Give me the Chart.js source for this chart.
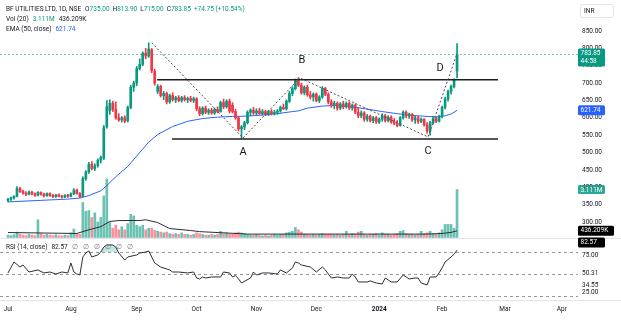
<!DOCTYPE html>
<html>
<head>
<meta charset="utf-8">
<script src="https://cdn.jsdelivr.net/npm/chart.js@4.4.1/dist/chart.umd.min.js"></script>
<style>
  html, body { margin: 0; padding: 0; background: #fff; }
  #wrap { width: 621px; height: 322px; position: relative; }
</style>
</head>
<body>
<div id="wrap"><canvas id="myChart" width="621" height="322"></canvas></div>
<script>
// daily candles, one entry per trading day (index 0 = first bar of July)
const opens = [
  362,366,370,374,396,388,383,380,386,381, 377,385,380,376,382,376,373,378,374,372,
  377,374,381,392,382,373,425,444,466,454, 462,478,484,574,620,642,624,600,594,600,
  592,630,688,700,742,754,786,778,796,734, 676,690,664,670,646,664,652,658,650,658,
  652,656,650,655,626,612,628,616,622,614, 624,618,644,632,648,636,618,600,568,574,
  586,616,622,614,620,612,618,610,618,612, 616,620,630,626,648,670,684,706,694,672,
  688,666,660,668,650,660,684,668,646,636, 642,628,640,632,642,628,636,616,606,614,
  596,604,592,600,588,596,606,592,602,588, 584,578,600,616,606,610,594,600,590,596,
  580,562,586,598,590,604,630,654,676,690, 735
];
const highs = [
  368,372,376,402,400,392,388,390,389,384, 388,387,383,384,384,380,380,381,377,379,
  380,384,396,395,385,430,448,472,474,468, 482,490,578,650,652,648,646,612,604,606,
  634,694,706,748,770,790,800,816,800,740, 696,694,676,674,668,672,662,664,662,664,
  660,662,660,658,632,632,634,626,628,628, 632,648,654,652,654,644,624,604,578,590,
  620,626,630,626,628,624,622,622,624,622, 624,634,640,652,676,690,712,716,700,692,
  694,676,672,672,664,690,688,672,652,648, 646,644,648,646,646,640,640,628,620,618,
  610,608,604,604,600,612,610,606,606,598, 592,604,620,620,614,612,604,604,600,598,
  586,590,604,602,608,634,660,680,694,712, 813.9
];
const lows = [
  358,362,366,372,385,380,376,378,378,374, 375,377,372,374,374,370,371,372,369,370,
  371,372,379,380,370,372,420,440,450,448, 458,470,480,570,610,618,596,590,588,586,
  588,626,676,692,738,750,770,774,730,694, 670,660,652,640,642,648,644,646,645,648,
  644,646,644,620,606,608,612,610,610,610, 614,616,626,628,614,614,596,562,542,566,
  582,606,610,608,610,608,606,606,608,608, 610,616,624,622,644,664,680,690,668,666,
  662,654,648,646,644,656,664,640,630,626, 622,624,626,628,624,622,612,600,600,590,
  590,588,586,584,584,590,588,588,584,580, 574,576,596,600,598,590,584,584,586,576,
  556,550,582,586,588,600,626,648,668,686, 715
];
const closes = [
  366,370,374,396,388,383,380,386,381,377, 385,380,376,382,376,373,378,374,372,377,
  374,381,392,382,373,425,444,466,454,462, 478,486,572,632,642,624,600,594,600,590,
  630,688,700,742,754,786,778,798,736,700, 690,664,670,646,664,652,658,650,658,652,
  656,650,655,626,612,628,616,622,614,624, 618,644,632,648,620,618,600,568,574,586,
  616,622,614,620,612,618,610,618,612,616, 620,630,626,648,670,684,706,694,672,688,
  666,660,668,650,660,684,668,646,636,642, 628,640,632,642,628,636,616,606,614,596,
  604,592,600,588,596,606,592,602,588,584, 578,600,616,606,610,594,600,590,596,580,
  562,586,598,590,604,630,654,676,690,709.1, 783.85
];
// volume in millions
const volumes = [
  0.15,0.12,0.18,0.35,0.22,0.15,0.12,0.2,0.15,0.12, 1.15,0.25,0.15,0.2,0.15,0.12,0.18,0.12,0.1,0.15,
  0.12,0.3,0.55,0.25,0.2,2.27,1.7,1.75,1.3,1.6, 1.0,1.3,2.7,3.8,1.0,0.6,0.8,0.5,0.7,0.5,
  0.9,1.5,1.4,0.8,0.7,0.8,0.5,0.6,0.6,0.45, 0.4,0.35,0.3,0.35,0.25,0.2,0.25,0.2,0.3,0.2,
  0.2,0.15,0.2,0.3,0.25,0.2,0.15,0.15,0.2,0.15, 0.2,0.4,0.25,0.3,0.2,0.25,0.3,0.35,0.3,0.25,
  0.2,0.15,0.15,0.2,0.15,0.1,0.15,0.1,0.15,0.2, 0.15,0.2,0.2,0.3,0.35,0.4,0.65,0.5,0.35,0.2,
  0.2,0.15,0.2,0.15,0.2,0.25,0.2,0.2,0.2,0.15, 0.2,0.15,0.2,0.4,0.2,0.25,0.2,0.35,0.4,0.2,
  0.15,0.2,0.2,0.25,0.15,0.3,0.2,0.2,0.15,0.2, 0.25,0.4,0.45,0.25,0.2,0.2,0.15,0.2,0.4,0.25,
  0.3,0.4,0.25,0.2,0.3,0.5,0.85,0.85,0.85,0.6, 3.111
];

// indicator lines (bar index -> value)
const emaIdx  = [0,10,20,24,27,31,33,35,37,40,43,45,47,50,55,60,65,70,75,80,85,90,95,97,100,105,110,115,120,125,130,135,140,143,146,148,150];
const emaVals = [358,362,366,369,376,390,405,422,438,460,490,510,530,552,575,590,598,602,604,605,608,612,618,620,628,634,636,632,625,618,612,607,604,603,606,611,621.74];

const volMaIdx  = [0,23,27,31,34,37,44,46,50,54,61,64,80,100,120,140,145,148,150];
const volMaVals = [0.32,0.26,0.5,0.7,1.04,1.1,1.1,1.15,0.97,0.58,0.45,0.38,0.22,0.22,0.22,0.22,0.26,0.33,0.436209];

const rsiIdx = [0,2,4,5,7,10,12,14,16,18,20,21,22,23,24,25,26,27,28,30,31,32,33,35,36,37,39,40,43,44,46,47,49,51,54,55,57,60,62,63,64,65,66,68,71,72,74,75,76,77,78,81,82,83,85,87,90,91,93,95,96,97,98,101,103,105,106,108,110,112,114,115,116,117,120,121,123,125,126,127,128,130,132,133,134,136,137,138,140,141,143,144,145,146,148,149,150];
const rsiVals = [51.4,66.4,59.5,62.3,52.7,55.5,51.4,52.7,50,52.7,51.4,65,52.7,50,48.6,73.2,78.6,81.4,73.2,76,80,86.8,89.6,89.6,86.8,78.6,69,73.2,76,78.6,80,81.4,65,59.5,55.5,52.7,52.7,51.4,52.7,44.5,43.2,45.9,44.5,45.9,45.9,52.7,51.4,45.9,48,43.2,37.7,44.5,52.7,48.6,51.4,51.4,50,55.5,51.4,58.2,66.4,65,62.3,59.5,52.7,59.5,55.5,44.5,45.9,44.5,44.5,50,45.9,39.1,39.1,40.5,37.7,36.4,44.5,41.8,39.1,39.1,48.6,45.9,43.2,44.5,44.5,37.7,35,45.9,45.9,51.4,58.2,66.4,73.2,77,82.57];

// axis ticks
const monthIdx    = [0,21,43,63,83,103,124,145,166,185];
const monthLabels = ['Jul','Aug','Sep','Oct','Nov','Dec','2024','Feb','Mar','Apr'];
const priceTicks  = [300,350,400,450,500,550,600,650,700,750,800,850];
const rsiTicks    = [75,50.31,34.55,25];
const rsiBands    = [80,50,20];

// drawn analysis: range lines and the A-B-C-D swing
const levelPrices = [710, 539];
const levelFrom   = [49.8, 54.8];
const levelTo     = [163.7, 163.7];
const swingIdx    = [48, 78.5, 97.5, 140.3, 149.7];
const swingPrice  = [816, 542, 715, 545, 778];
const swingLabels = ['A','B','C','D'];
const labelIdx    = [78.5, 98.2, 140.3, 144.3];
const labelPrice  = [502, 766, 505, 744];

const UP = '#089981', DOWN = '#F23645', INK = '#131722';
const FONT = 'Roboto, "Noto Sans", sans-serif';
const last = closes.length - 1;
const bars = closes.map((_, i) => i);
const candleColors = bars.map(i => closes[i] >= opens[i] ? UP : DOWN);
const volColors = bars.map(i => closes[i] >= opens[i] ? 'rgba(8,153,129,0.6)' : 'rgba(242,54,69,0.55)');
const pts = (xs, ys) => xs.map((x, k) => ({ x, y: ys[k] }));

function line(ctx, x1, y1, x2, y2) {
  ctx.beginPath(); ctx.moveTo(x1, y1); ctx.lineTo(x2, y2); ctx.stroke();
}
function segs(ctx, x, y, parts) {
  parts.forEach(([t, c, gap]) => {
    ctx.fillStyle = c;
    ctx.fillText(t, x, y);
    x += ctx.measureText(t).width + (gap || 0);
  });
}
function tag(ctx, x, top, w, h, bg, lines) {
  ctx.fillStyle = bg;
  ctx.beginPath(); ctx.roundRect(x, top, w, h, 1.5); ctx.fill();
  ctx.fillStyle = '#fff';
  lines.forEach((t, k) => ctx.fillText(t, x + 2.5, top + 5 + k * 8));
}

const decor = {
  id: 'decor',
  beforeDatasetsDraw(chart) {
    const { ctx, chartArea: a, scales: { y, yRsi } } = chart;
    ctx.save();
    ctx.lineWidth = 1;
    ctx.strokeStyle = '#e0e3eb';
    line(ctx, 0, Math.round(yRsi.top) + 0.5, chart.width, Math.round(yRsi.top) + 0.5);
    line(ctx, 0, Math.round(a.bottom) + 0.5, chart.width, Math.round(a.bottom) + 0.5);
    ctx.setLineDash([3, 3]);
    ctx.strokeStyle = '#9598a1';
    rsiBands.forEach(v => {
      const py = Math.round(yRsi.getPixelForValue(v)) + 0.5;
      line(ctx, a.left, py, a.right, py);
    });
    ctx.setLineDash([2, 2]);
    ctx.strokeStyle = 'rgba(8,153,129,0.55)';
    const py = Math.round(y.getPixelForValue(closes[last])) + 0.5;
    line(ctx, a.left, py, a.right, py);
    ctx.restore();
  },
  afterDraw(chart) {
    const { ctx, chartArea: a, scales: { x, y, yVol, yRsi } } = chart;
    ctx.save();
    ctx.textBaseline = 'middle';

    // swing letters
    ctx.font = '11px ' + FONT;
    ctx.fillStyle = INK;
    ctx.textAlign = 'center';
    swingLabels.forEach((t, k) => ctx.fillText(t, x.getPixelForValue(labelIdx[k]), y.getPixelForValue(labelPrice[k])));

    // legends
    ctx.textAlign = 'left';
    ctx.font = '6.5px ' + FONT;
    const chg = closes[last] - closes[last - 1];
    segs(ctx, 6, 9.5, [
      ['BF UTILITIES LTD, 1D, NSE', INK, 4],
      ['O', INK], [opens[last].toFixed(2), UP, 3],
      ['H', INK], [highs[last].toFixed(2), UP, 3],
      ['L', INK], [lows[last].toFixed(2), UP, 3],
      ['C', INK], [closes[last].toFixed(2), UP, 3],
      ['+' + chg.toFixed(2) + ' (+' + (chg / closes[last - 1] * 100).toFixed(2) + '%)', UP]
    ]);
    const volMaLast = volMaVals[volMaVals.length - 1];
    segs(ctx, 6, 19.5, [['Vol (20)', INK, 4], [volumes[last].toFixed(3) + 'M', UP, 4], [(volMaLast * 1000).toFixed(3) + 'K', INK]]);
    segs(ctx, 6, 29, [['EMA (50, close)', INK, 4], [emaVals[emaVals.length - 1].toFixed(2), '#2962FF']]);
    segs(ctx, 6, yRsi.top + 9, [['RSI (14, close)', INK, 4], [rsiVals[rsiVals.length - 1].toFixed(2), INK, 4],
      ['∅', '#787b86', 5], ['∅', '#787b86', 5], ['∅', '#787b86', 5], ['∅', '#787b86', 5], ['∅', '#787b86', 5], ['∅', '#787b86']]);

    // price scale tags
    const rx = a.right;
    const pc = y.getPixelForValue(closes[last]);
    tag(ctx, rx, pc - 5.5, 27, 18, UP, [closes[last].toFixed(2), '44:58']);
    tag(ctx, rx, y.getPixelForValue(emaVals[emaVals.length - 1]) - 5, 27, 10, '#2962FF', [emaVals[emaVals.length - 1].toFixed(2)]);
    tag(ctx, rx, yVol.getPixelForValue(volumes[last]) - 4.5, 27, 9, 'rgba(8,153,129,0.85)', [volumes[last].toFixed(3) + 'M']);
    tag(ctx, rx, yVol.getPixelForValue(volMaLast) - 5, 36, 10, '#000', [(volMaLast * 1000).toFixed(3) + 'K']);
    tag(ctx, rx, yRsi.top - 0.5, 27, 10, '#000', [rsiVals[rsiVals.length - 1].toFixed(2)]);

    // currency box
    ctx.strokeStyle = '#e0e3eb';
    ctx.lineWidth = 1;
    ctx.beginPath(); ctx.roundRect(580.5, 4.5, 33, 13, 2); ctx.stroke();
    ctx.fillStyle = INK;
    ctx.fillText('INR', 584, 11.5);
    ctx.restore();
  }
};

const tickFont = { family: FONT, size: 6.5 };
const flatFit = s => { s.paddingTop = 0; s.paddingBottom = 0; s.paddingLeft = 0; s.paddingRight = 0; };

new Chart(document.getElementById('myChart'), {
  type: 'bar',
  data: {
    datasets: [
      { type: 'line', data: pts(swingIdx, swingPrice), yAxisID: 'y', borderColor: '#4a4e59', borderWidth: 1, borderDash: [2, 2], pointRadius: 0, order: 0 },
      { type: 'line', data: [{ x: levelFrom[0], y: levelPrices[0] }, { x: levelTo[0], y: levelPrices[0] }], yAxisID: 'y', borderColor: '#1e1e1e', borderWidth: 1.5, pointRadius: 0, order: 0 },
      { type: 'line', data: [{ x: levelFrom[1], y: levelPrices[1] }, { x: levelTo[1], y: levelPrices[1] }], yAxisID: 'y', borderColor: '#1e1e1e', borderWidth: 1.5, pointRadius: 0, order: 0 },
      { type: 'bar', data: bars.map(i => ({ x: i, y: [opens[i], closes[i]] })), yAxisID: 'y', backgroundColor: candleColors, barThickness: 2, grouped: false, order: 2 },
      { type: 'bar', data: bars.map(i => ({ x: i, y: [lows[i], highs[i]] })), yAxisID: 'y', backgroundColor: candleColors, barThickness: 1, grouped: false, order: 3 },
      { type: 'line', data: pts(emaIdx, emaVals), yAxisID: 'y', borderColor: '#2962FF', borderWidth: 1, pointRadius: 0, order: 4 },
      { type: 'line', data: pts(volMaIdx, volMaVals), yAxisID: 'yVol', borderColor: '#2a2e39', borderWidth: 1, pointRadius: 0, order: 5 },
      { type: 'bar', data: bars.map(i => ({ x: i, y: volumes[i] })), yAxisID: 'yVol', backgroundColor: volColors, barThickness: 2, grouped: false, order: 9 },
      { type: 'line', data: pts(rsiIdx, rsiVals), yAxisID: 'yRsi', borderColor: '#2a2e39', borderWidth: 1, pointRadius: 0, order: 6,
        fill: { target: { value: 80 }, above: 'rgba(8,153,129,0.25)', below: 'rgba(0,0,0,0)' } }
    ]
  },
  options: {
    responsive: false,
    animation: false,
    events: [],
    layout: { padding: 0 },
    plugins: { legend: { display: false }, tooltip: { enabled: false } },
    elements: { bar: { borderWidth: 0 }, line: { tension: 0 } },
    scales: {
      x: {
        type: 'linear', min: -2.673, max: 190.4, offset: false,
        grid: { display: false, offset: false, drawTicks: false }, border: { display: false },
        afterBuildTicks: s => { s.ticks = monthIdx.map(v => ({ value: v })); },
        afterFit: s => { s.height = 22; flatFit(s); },
        ticks: {
          autoSkip: false, maxRotation: 0, padding: 5, color: INK,
          font: c => ({ family: FONT, size: 6.5, weight: c.tick && c.tick.value === 124 ? 'bold' : 'normal' }),
          callback: v => monthLabels[monthIdx.indexOf(v)]
        }
      },
      y: {
        type: 'linear', position: 'right', stack: 'panes', stackWeight: 238, min: 254, max: 939.3,
        grid: { display: false, drawTicks: false }, border: { display: false },
        afterBuildTicks: s => { s.ticks = priceTicks.map(v => ({ value: v })); },
        afterFit: s => { s.width = 43; flatFit(s); },
        ticks: { padding: 4, color: INK, font: tickFont, callback: v => v.toFixed(2) }
      },
      yRsi: {
        type: 'linear', position: 'right', stack: 'panes', stackWeight: 62, min: 14.5, max: 99.1,
        grid: { display: false, drawTicks: false }, border: { display: false },
        afterBuildTicks: s => { s.ticks = rsiTicks.map(v => ({ value: v })); },
        afterFit: s => { s.width = 43; flatFit(s); },
        ticks: { padding: 4, color: INK, font: tickFont, callback: v => v.toFixed(2) }
      },
      yVol: {
        type: 'linear', position: 'right', display: false, min: -4.06, max: 15.42
      }
    }
  },
  plugins: [decor]
});
</script>
</body>
</html>
